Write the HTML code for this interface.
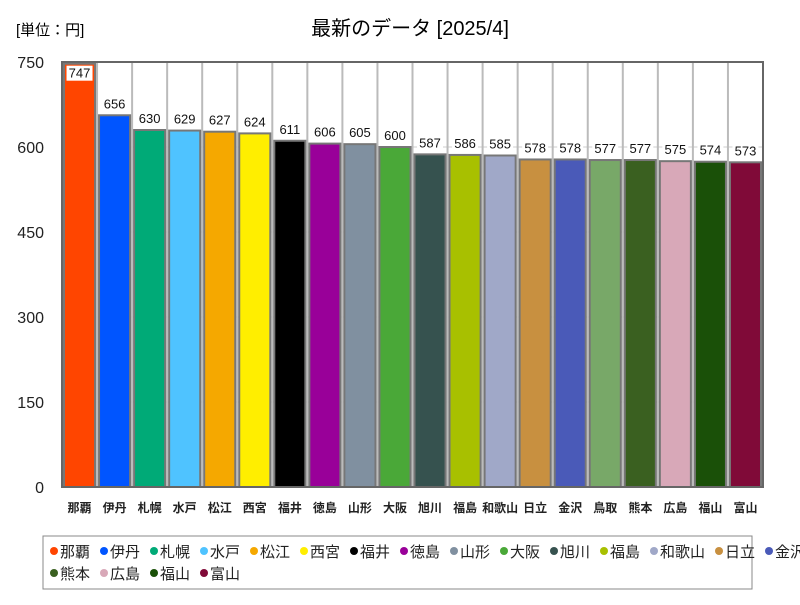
<!DOCTYPE html>
<html><head><meta charset="utf-8"><style>
body{margin:0;background:#fff;font-family:"Liberation Sans","Noto Sans CJK JP",sans-serif;}
svg text{font-family:"Liberation Sans","Noto Sans CJK JP",sans-serif;}
</style></head><body>
<svg id="c" width="800" height="600">
<text x="16" y="35" font-size="15">[単位：円]</text>
<text x="410" y="35" font-size="20" text-anchor="middle">最新のデータ [2025/4]</text>
<g id="grid"></g><g id="bars"></g><g id="axes"></g>
<rect x="43" y="536" width="709" height="53" fill="#fff" stroke="#888"/>
<g id="legend"></g>
</svg>
<script>
const categories=["那覇","伊丹","札幌","水戸","松江","西宮","福井","徳島","山形","大阪","旭川","福島","和歌山","日立","金沢","鳥取","熊本","広島","福山","富山"];
const values=[747,656,630,629,627,624,611,606,605,600,587,586,585,578,578,577,577,575,574,573];
const colors=["#ff4500","#0055ff","#00aa77","#4fc3ff","#f5a800","#ffee00","#000000","#990099","#8090a0","#4aa838","#36524f","#a8c000","#a0a8c8","#c89040","#4a5ab8","#78a868","#3a6020","#d8a8b8","#1a5008","#800a38"];
const ticks=[0,150,300,450,600,750];
const X0=62,X1=763,Y0=487,Y1=62,MAX=750;
const y=v=>Y0-(v/MAX)*(Y0-Y1);
const bw=(X1-X0)/categories.length;
const x=i=>X0+i*bw;
const NS="http://www.w3.org/2000/svg";
function mk(t,a,p){const e=document.createElementNS(NS,t);for(const k in a)e.setAttribute(k,a[k]);p.appendChild(e);return e;}
const grid=document.getElementById('grid'),bars=document.getElementById('bars'),axes=document.getElementById('axes'),leg=document.getElementById('legend');
ticks.forEach(t=>{
 const l=mk('line',{x1:X0,x2:X1,y1:y(t),y2:y(t),stroke:'#ccc'},grid);
 
 
 const tx=mk('text',{x:44,y:y(t)+6,'font-size':16,'text-anchor':'end',fill:'#222'},axes);tx.textContent=t;
 
 
});
for(let i=1;i<categories.length;i++){
 const l=mk('line',{x1:x(i),x2:x(i),y1:Y1,y2:Y0,stroke:'#bbb','stroke-width':2},grid);
 
 
}
categories.forEach((c,i)=>{
 const v=values[i];
 const r=mk('rect',{x:x(i)+2,y:y(v),width:bw-4,height:Y0-y(v),fill:colors[i],stroke:'#777','stroke-width':2},bars);
 
 
 const ly=i==0?y(v)+14:y(v)-7;
 const bg=mk('rect',{x:x(i)+bw/2-13,y:ly-12,width:26,height:15,fill:'#fff'},bars);
 
 
 const t=mk('text',{x:x(i)+bw/2,y:ly,'font-size':13,'text-anchor':'middle',fill:'#111'},bars);t.textContent=v;
 
 
 const xl=mk('text',{x:x(i)+bw/2,y:512,'font-size':12,'font-weight':'bold','text-anchor':'middle',fill:'#222'},axes);xl.textContent=c;
 
 
 const row=i<16?0:1, col=i<16?i:i-16;
 const widths=categories.map(s=>s.length*15+20);
 let lx=50;for(let k=(row?16:0);k<i;k++)lx+=widths[k];
 const ly2=row?573:551;
 const g=mk('g',{},leg);
 
 
 mk('circle',{cx:lx+4,cy:ly2,r:4,fill:colors[i]},g);
 const lt=mk('text',{x:lx+10,y:ly2+6,'font-size':15,fill:'#222'},g);lt.textContent=c;
});
const f=mk('rect',{x:X0,y:Y1,width:X1-X0,height:Y0-Y1,fill:'none',stroke:'#666','stroke-width':2},axes);


</script>
</body></html>
